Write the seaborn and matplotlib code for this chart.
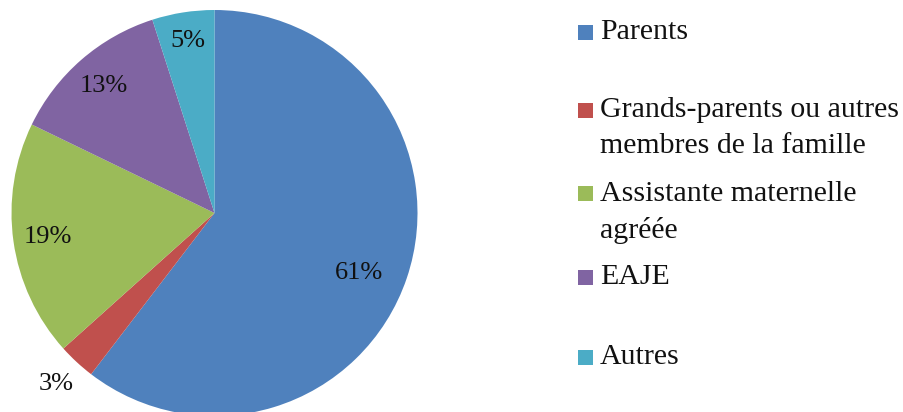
import matplotlib
matplotlib.use("Agg")
import matplotlib.pyplot as plt
from matplotlib.patches import Rectangle
import seaborn as sns
import numpy as np

# Mode de garde principal
categories = [
    "Parents",
    "Grands-parents ou autres\nmembres de la famille",
    "Assistante maternelle\nagréée",
    "EAJE",
    "Autres",
]
values = [61, 3, 19, 13, 5]
colors_hex = ["#4F81BD", "#C0504D", "#9BBB59", "#8064A2", "#4BACC6"]

sns.set_theme(style="white")
plt.rcParams["font.family"] = ["Liberation Serif", "DejaVu Serif"]

palette = sns.color_palette(colors_hex)
W, H = 904, 412
fig = plt.figure(figsize=(W / 100, H / 100), dpi=100)

# pie geometry in pixels
cx, cy, r = 214.5, 213.0, 203.0
ax = fig.add_axes([(cx - r) / W, (H - cy - r) / H, 2 * r / W, 2 * r / H])
total = sum(values)

wedges, texts, autotexts = ax.pie(
    values,
    colors=palette,
    startangle=90,
    counterclock=False,
    radius=1.0,
    autopct=lambda p: f"{p * total / 100:.0f}%",
    pctdistance=0.81,
    wedgeprops=dict(linewidth=0, edgecolor="none", antialiased=True),
    textprops=dict(fontsize=19, color="#111111"),
)
ax.set_xlim(-1, 1)
ax.set_ylim(-1, 1)
ax.set_aspect("equal")
ax.axis("off")

# label distance from the centre for each slice (small slice sits outside)
label_dist = [0.77, 1.15, 0.83, 0.83, 0.86]
label_shift = [-4, 0, 0, 0, 0]  # degrees
for w, t, d, s in zip(wedges, autotexts, label_dist, label_shift):
    ang = np.deg2rad((w.theta1 + w.theta2) / 2 + s)
    t.set_position((d * np.cos(ang), d * np.sin(ang)))

# legend drawn as squares + text in figure pixels
legend_y = [32, 110, 194, 277, 357]
for col, lab, y in zip(palette, categories, legend_y):
    fig.add_artist(Rectangle((578 / W, (H - y - 7.5) / H), 15 / W, 15 / H,
                             transform=fig.transFigure, facecolor=col,
                             edgecolor="none"))
    lines = lab.split("\n")
    for k, line in enumerate(lines):
        fig.text(600 / W, (H - y - 36 * k) / H, line, fontsize=21.5,
                 color="#111111", va="center", ha="left")

fig.savefig("out.png", dpi=100)
